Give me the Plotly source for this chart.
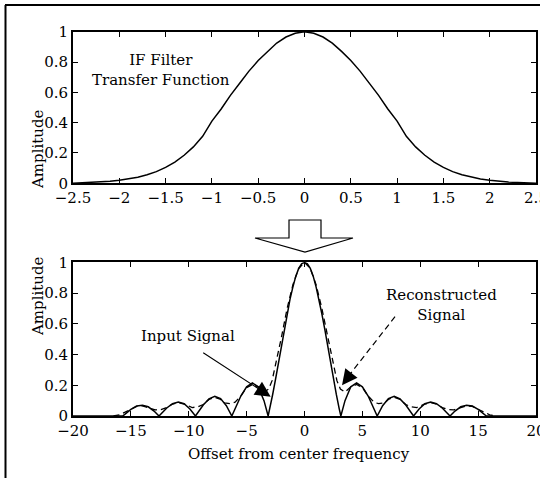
import plotly.graph_objects as go

# ---- data: IF filter transfer function (top) ----
top_x = [-2.5, -2.4, -2.3, -2.2, -2.1, -2.0, -1.9, -1.8, -1.7, -1.6, -1.5, -1.4, -1.3, -1.2, -1.1,
         -1.0, -0.9, -0.8, -0.7, -0.6, -0.5, -0.4, -0.3, -0.2, -0.1, 0.0,
         0.1, 0.2, 0.3, 0.4, 0.5, 0.6, 0.7, 0.8, 0.9, 1.0,
         1.1, 1.2, 1.3, 1.4, 1.5, 1.6, 1.7, 1.8, 1.9, 2.0, 2.1, 2.2, 2.3, 2.4, 2.5]
top_y = [0.001, 0.003, 0.005, 0.008, 0.013, 0.02, 0.028, 0.04, 0.056, 0.077, 0.105, 0.14, 0.185, 0.24, 0.31,
         0.41, 0.49, 0.58, 0.66, 0.74, 0.81, 0.87, 0.925, 0.965, 0.99, 1.0,
         0.99, 0.965, 0.925, 0.87, 0.81, 0.74, 0.66, 0.58, 0.49, 0.41,
         0.31, 0.24, 0.185, 0.14, 0.105, 0.077, 0.056, 0.04, 0.028, 0.02, 0.013, 0.008, 0.005, 0.003, 0.001]

# ---- data: input signal (solid, bottom) ----
input_x = [-20, -15.71, -15.5, -15.0, -14.5, -14.0, -13.5, -13.0, -12.57, -12.4, -11.9, -11.4, -10.9, -10.4,
           -9.9, -9.42, -9.25, -8.75, -8.25, -7.75, -7.25, -6.75, -6.28, -6.0, -5.5, -5.0, -4.5, -4.0,
           -3.5, -3.14, -3.0, -2.75, -2.5, -2.25, -2.0, -1.75, -1.5, -1.25, -1.0, -0.75, -0.5, -0.25,
           0.0,
           0.25, 0.5, 0.75, 1.0, 1.25, 1.5, 1.75, 2.0, 2.25, 2.5, 2.75, 3.0, 3.14, 3.5,
           4.0, 4.5, 5.0, 5.5, 6.0, 6.28, 6.75, 7.25, 7.75, 8.25, 8.75, 9.25, 9.42, 9.9,
           10.4, 10.9, 11.4, 11.9, 12.4, 12.57, 13.0, 13.5, 14.0, 14.5, 15.0, 15.5, 15.71, 20]
input_y = [0.0, 0.0, 0.012, 0.043, 0.065, 0.07, 0.06, 0.032, 0.0, 0.013, 0.052, 0.08, 0.091, 0.08,
           0.046, 0.0, 0.019, 0.071, 0.111, 0.128, 0.113, 0.067, 0.0, 0.047, 0.13, 0.19, 0.215, 0.19,
           0.10, 0.0, 0.047, 0.14, 0.24, 0.345, 0.455, 0.565, 0.665, 0.76, 0.84, 0.91, 0.96, 0.99,
           1.0,
           0.99, 0.96, 0.91, 0.84, 0.76, 0.665, 0.565, 0.455, 0.345, 0.24, 0.14, 0.047, 0.0, 0.10,
           0.19, 0.215, 0.19, 0.13, 0.047, 0.0, 0.067, 0.113, 0.128, 0.111, 0.071, 0.019, 0.0, 0.046,
           0.08, 0.091, 0.08, 0.052, 0.013, 0.0, 0.032, 0.06, 0.07, 0.065, 0.043, 0.012, 0.0, 0.0]

# ---- data: reconstructed signal (dashed, bottom) ----
recon_x = [-16.5, -16.0, -15.5, -15.0, -14.5, -14.0, -13.5, -12.9, -12.4, -11.9, -11.4, -10.9, -10.3,
           -9.7, -9.2, -8.75, -8.25, -7.75, -7.3, -6.9, -6.4, -6.0, -5.5, -5.0, -4.5, -4.0, -3.5,
           -3.1, -2.8, -2.5, -2.0, -1.5, -1.0, -0.5,
           0.0,
           0.5, 1.0, 1.5, 2.0, 2.5, 2.8, 3.1, 3.5, 4.0, 4.5, 5.0, 5.5, 6.0, 6.4, 6.9, 7.3, 7.75,
           8.25, 8.75, 9.2, 9.7, 10.3, 10.9, 11.4, 11.9, 12.4, 12.9, 13.5, 14.0, 14.5, 15.0, 15.5,
           16.0, 16.5]
recon_y = [0.0, 0.008, 0.025, 0.045, 0.062, 0.066, 0.055, 0.04, 0.042, 0.055, 0.078, 0.087, 0.075,
           0.055, 0.06, 0.075, 0.108, 0.122, 0.11, 0.085, 0.08, 0.09, 0.13, 0.185, 0.205, 0.19, 0.155,
           0.175, 0.23, 0.33, 0.51, 0.7, 0.855, 0.96,
           1.0,
           0.96, 0.855, 0.7, 0.51, 0.33, 0.23, 0.175, 0.155, 0.19, 0.205, 0.185, 0.13, 0.09, 0.08, 0.085, 0.11, 0.122,
           0.108, 0.075, 0.06, 0.055, 0.075, 0.087, 0.078, 0.055, 0.042, 0.04, 0.055, 0.066, 0.062, 0.045, 0.025,
           0.008, 0.0]

top_xticks = [-2.5, -2, -1.5, -1, -0.5, 0, 0.5, 1, 1.5, 2, 2.5]
bot_xticks = [-20, -15, -10, -5, 0, 5, 10, 15, 20]
yticks = [0, 0.2, 0.4, 0.6, 0.8, 1]

W, H = 540, 478
FONT = "DejaVu Serif"


def px(x):
    return x / W


def py(y):
    return 1 - y / H


fig = go.Figure()
fig.add_trace(go.Scatter(x=top_x, y=top_y, mode="lines", line=dict(color="black", width=1.5),
                         xaxis="x", yaxis="y", showlegend=False, hoverinfo="skip"))
fig.add_trace(go.Scatter(x=recon_x, y=recon_y, mode="lines",
                         line=dict(color="black", width=1.3, dash="6px,4px"),
                         xaxis="x2", yaxis="y2", showlegend=False, hoverinfo="skip"))
fig.add_trace(go.Scatter(x=input_x, y=input_y, mode="lines", line=dict(color="black", width=1.5),
                         xaxis="x2", yaxis="y2", showlegend=False, hoverinfo="skip"))

axis_common = dict(showline=True, linewidth=2, linecolor="black", mirror="allticks",
                   ticks="inside", ticklen=5, tickwidth=1, tickcolor="black",
                   showgrid=False, zeroline=False, automargin=False,
                   ticklabeloverflow="allow",
                   tickfont=dict(family=FONT, size=15, color="black"))

x_dom = [px(73), px(536)]
fig.update_layout(
    width=W, height=H, autosize=False,
    margin=dict(l=0, r=0, t=0, b=0, pad=0, autoexpand=False),
    paper_bgcolor="white", plot_bgcolor="white",
    xaxis=dict(domain=x_dom, range=[-2.5, 2.5], tickvals=top_xticks, anchor="y", **axis_common),
    yaxis=dict(domain=[py(183.3), py(31.7)], range=[0, 1], tickvals=yticks, anchor="x", **axis_common),
    xaxis2=dict(domain=x_dom, range=[-20, 20], tickvals=bot_xticks, anchor="y2", **axis_common),
    yaxis2=dict(domain=[py(416), py(262.3)], range=[0, 1], tickvals=yticks, anchor="x2", **axis_common),
)

txt = dict(family=FONT, size=15, color="black")
ann = [
    dict(text="Amplitude", x=px(27), y=py(107), xref="paper", yref="paper", textangle=-90,
         showarrow=False, font=txt),
    dict(text="Amplitude", x=px(27), y=py(338), xref="paper", yref="paper", textangle=-90,
         showarrow=False, font=txt),
    dict(text="Offset from center frequency", x=px(299), y=py(465), xref="paper", yref="paper",
         showarrow=False, font=txt),
    dict(text="IF Filter<br>Transfer Function", x=-1.55, y=0.75, xref="x", yref="y",
         showarrow=False, font=txt, align="center"),
    dict(text="Input Signal", x=-10.1, y=0.52, xref="x2", yref="y2", showarrow=False, font=txt),
    dict(text="Reconstructed<br>Signal", x=11.8, y=0.72, xref="x2", yref="y2", showarrow=False,
         font=txt, align="center"),
    # solid arrow to input signal
    dict(text="", x=-2.92, y=0.126, xref="x2", yref="y2", ax=-8.88, ay=0.418, axref="x2", ayref="y2",
         showarrow=True, arrowhead=2, arrowsize=2.8, arrowwidth=1.1, arrowcolor="black", standoff=0),
    # head of dashed arrow to reconstructed signal
    dict(text="", x=3.24, y=0.2, xref="x2", yref="y2", ax=10, ay=-13,
         showarrow=True, arrowhead=2, arrowsize=2.8, arrowwidth=1.1, arrowcolor="black", standoff=0),
]
fig.update_layout(annotations=ann)

# block arrow between the panels
pts = [(289, 220), (321, 220), (321, 238), (353, 238), (305, 252), (255, 238), (289, 238)]
path = "M " + " L ".join(f"{px(a):.5f},{py(b):.5f}" for a, b in pts) + " Z"
shapes = [
    dict(type="path", path=path, xref="paper", yref="paper", fillcolor="white",
         line=dict(color="black", width=1.2)),
    # dashed shaft of the reconstructed-signal arrow
    dict(type="line", x0=7.82, y0=0.646, x1=3.7, y1=0.25, xref="x2", yref="y2",
         line=dict(color="black", width=1.2, dash="6px,4px")),
    # outer frame (top and left edges)
    dict(type="line", x0=px(5), y0=py(5), x1=1, y1=py(5), xref="paper", yref="paper",
         line=dict(color="black", width=2)),
    dict(type="line", x0=px(5.5), y0=py(5), x1=px(5.5), y1=0, xref="paper", yref="paper",
         line=dict(color="black", width=2)),
]
fig.update_layout(shapes=shapes)

fig.write_html("out.html", config={"displayModeBar": False},
               post_script="document.body.style.margin='0';")
